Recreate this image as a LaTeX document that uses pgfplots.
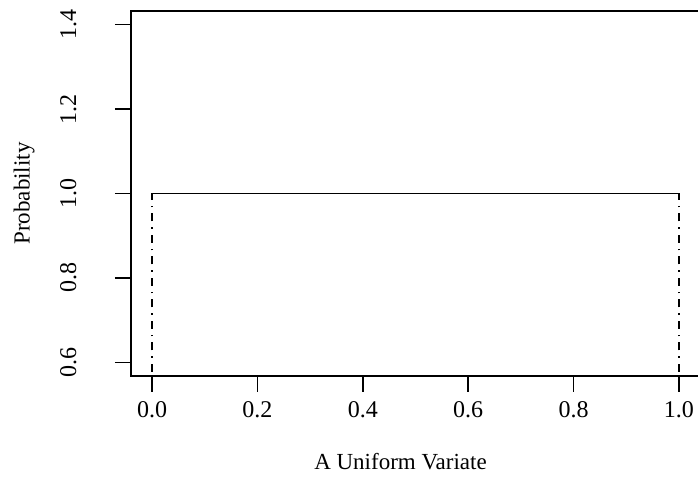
\documentclass[border=0pt]{standalone}
\usepackage{fontspec}
\setmainfont{Liberation Serif}
\usepackage{pgfplots}
\pgfplotsset{compat=1.18}
\begin{document}
\begin{tikzpicture}[x=1pt,y=1pt]
\useasboundingbox (0,0) rectangle (698,500);
\begin{axis}[
  at={(131pt,124pt)}, anchor=south west,
  scale only axis, width=569pt, height=365pt,
  xmin=-0.04, xmax=1.04, ymin=0.568, ymax=1.432,
  xtick={0,0.2,0.4,0.6,0.8,1.0},
  ytick={0.6,0.8,1.0,1.2,1.4},
  xtick pos=bottom, ytick pos=left,
  tick align=outside, major tick length=16pt,
  axis line style={line width=1.5pt},
  every tick/.style={black, line width=1.5pt},
  /pgf/number format/assume math mode=true,
  /pgf/number format/fixed, /pgf/number format/fixed zerofill, /pgf/number format/precision=1,
  tick label style={font=\fontsize{24}{28}\selectfont},
  xticklabel style={anchor=north},
  xticklabel shift=6pt,
  yticklabel style={rotate=90, anchor=south},
  yticklabel shift=35pt,
  xlabel={A Uniform Variate}, ylabel={Probability},
  label style={font=\fontsize{23}{27}\selectfont},
  xlabel style={at={(axis description cs:0.4736,0)}, anchor=north, yshift=-74pt},
  ylabel style={at={(axis description cs:0,0.5)}, anchor=south, rotate=0, yshift=93pt},
  clip=true,
]
\addplot[black, line width=1.6pt] coordinates {(0,1) (1,1)};
\addplot[black, line width=1.5pt, dash pattern=on 1.5pt off 6pt on 8pt off 6pt] coordinates {(0,0) (0,1)};
\addplot[black, line width=1.5pt, dash pattern=on 1.5pt off 6pt on 8pt off 6pt] coordinates {(1,0) (1,1)};
\end{axis}
\end{tikzpicture}
\end{document}
